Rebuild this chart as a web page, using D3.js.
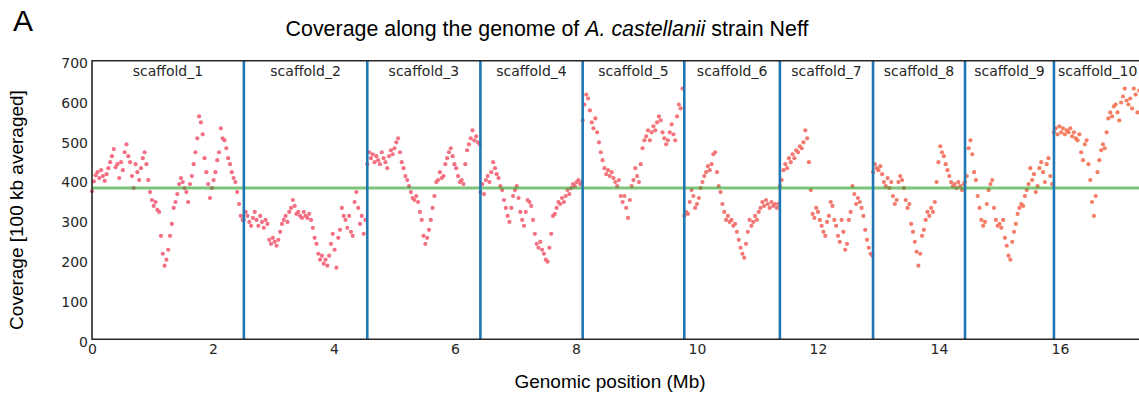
<!DOCTYPE html>
<html>
<head>
<meta charset="utf-8">
<script src="https://cdn.jsdelivr.net/npm/d3@7"></script>
<style>
  body { margin: 0; background: #fff; }
  svg { display: block; }
</style>
</head>
<body>
<svg id="chart"></svg>
<script>
const width = 1139
const height = 396

// chart values
const scaffoldNames = ['scaffold_1','scaffold_2','scaffold_3','scaffold_4','scaffold_5',
  'scaffold_6','scaffold_7','scaffold_8','scaffold_9','scaffold_10']
const scaffoldStarts = [0, 2.51, 4.55, 6.42, 8.11, 9.79, 11.37, 12.91, 14.43, 15.90]
const genomeEnd = 17.5
const windowStep = 0.03
const meanCoverage = 380
const xTickLabels = [0, 2, 4, 6, 8, 10, 12, 14, 16]
const yTickLabels = [0, 100, 200, 300, 400, 500, 600, 700]

const cov1 = [372,397,412,420,405,425,410,398,415,430,445,460,478,432,440,405,445,425,470,490,
  460,445,410,380,440,420,400,430,455,470,440,400,370,350,335,345,325,320,260,215,
  185,200,225,260,290,330,345,365,390,405,395,380,370,345,390,410,440,470,505,560,
  545,515,455,420,390,355,380,400,420,450,470,530,505,500,480,455,440,420,405,395,
  370,340,310,300]
const cov2 = [300,320,310,295,285,305,320,300,285,310,295,280,300,290,250,240,255,245,235,250,
  270,290,300,310,295,320,330,350,335,315,320,310,305,320,310,305,315,300,280,255,
  240,215,200,210,190,200,185,210,240,265,225,180,255,275,330,310,300,280,310,270,
  260,345,370,330,290,310,265,300]
const cov3 = [440,470,455,465,445,460,450,440,470,455,445,430,460,475,465,480,495,505,470,445,
  430,410,400,385,370,355,350,360,345,320,300,260,240,255,275,300,330,360,395,400,
  420,405,410,440,455,470,480,460,440,430,410,395,400,390,440,475,490,505,525,500,
  510,495,490]
const cov4 = [370,390,365,400,410,395,420,445,430,415,405,385,375,350,330,310,295,330,360,375,
  385,355,320,300,285,320,350,345,335,300,265,240,230,245,225,215,200,195,230,265,
  310,315,330,345,340,355,345,360,375,365,380,390,385,395,400,390,395]
const cov5 = [550,590,615,605,575,545,530,555,520,495,470,450,430,415,425,410,420,405,395,385,
  400,360,345,360,330,305,350,385,400,430,410,395,440,480,500,510,525,500,520,535,
  525,545,560,550,520,505,490,500,520,540,515,500,560,590,580,630]
const cov6 = [310,320,315,345,375,360,330,340,355,380,395,410,420,435,425,440,465,470,420,385,
  370,340,320,300,310,295,300,285,290,270,250,230,215,205,240,270,300,285,295,310,
  300,320,330,345,335,350,340,330,345,335,340,330,340]
const cov7 = [385,400,425,440,430,455,445,465,455,475,470,485,480,495,525,505,445,375,315,305,
  330,320,300,285,270,260,295,310,345,335,300,285,260,245,300,270,225,240,300,320,
  385,365,340,355,345,330,310,275,250,230,215,210]
const cov8 = [420,440,430,425,435,415,395,385,405,380,395,360,340,350,395,410,400,380,350,330,
  340,290,270,245,220,185,215,260,275,300,320,310,330,320,345,395,445,485,470,460,
  440,425,410,395,385,390,380,395,385,375,390]
const cov9 = [395,410,480,500,465,420,400,360,330,300,285,295,340,375,390,400,330,300,285,290,
  280,300,255,235,210,200,245,270,290,315,330,340,335,360,375,390,430,400,415,370,
  385,430,445,420,395,440,455,410,390]
const cov10 = [520,530,515,535,520,530,515,525,520,530,510,520,505,500,515,470,450,490,500,440,
  400,345,310,360,420,450,475,490,480,520,555,570,560,585,590,570,550,595,610,630,
  600,590,605,580,630,615,570,625,600]
const coverageByScaffold = [cov1, cov2, cov3, cov4, cov5, cov6, cov7, cov8, cov9, cov10]

// styles
const scaffoldColors = ['#f1637c','#f1647a','#f16578','#f16676','#f16a70',
  '#f16c6b','#f16e64','#f2705f','#f2725a','#f37456']
const tickFont = '"DejaVu Sans", sans-serif'
const labelFont = '"Liberation Sans", Arial, sans-serif'

const svg = d3.select('#chart').attr('width', width).attr('height', height)

const x = d3.scaleLinear().domain([0, genomeEnd]).range([92, 92 + genomeEnd * 60.5])
const y = d3.scaleLinear().domain([0, 700]).range([339.3, 60.7])

// flatten the scaffolds into one point list
const points = []
coverageByScaffold.forEach((vals, k) => {
  vals.forEach((v, i) => {
    points.push({ pos: scaffoldStarts[k] + i * windowStep, cov: v, scaffold: k })
  })
})

//points
svg.append('g')
  .selectAll('circle')
  .data(points)
  .enter().append('circle')
  .attr('cx', d => x(d.pos))
  .attr('cy', d => y(d.cov))
  .attr('r', 2.1)
  .attr('fill', d => scaffoldColors[d.scaffold])
  .attr('fill-opacity', 0.92)

//mean line
svg.append('line')
  .attr('x1', x(0)).attr('x2', width + 10)
  .attr('y1', y(meanCoverage)).attr('y2', y(meanCoverage))
  .attr('stroke', '#2ca02c').attr('stroke-opacity', 0.62)
  .attr('stroke-width', 3)

//scaffold borders
svg.append('g')
  .selectAll('line')
  .data(scaffoldStarts.slice(1))
  .enter().append('line')
  .attr('x1', d => x(d)).attr('x2', d => x(d))
  .attr('y1', y(700)).attr('y2', y(0))
  .attr('stroke', '#1f77b4')
  .attr('stroke-width', 2.6)

//scaffold labels
const ends = scaffoldStarts.slice(1).concat([genomeEnd])
svg.append('g')
  .selectAll('text')
  .data(scaffoldNames)
  .enter().append('text')
  .attr('x', (d, i) => {
    const c = (x(scaffoldStarts[i]) + x(ends[i])) / 2
    return i === 9 ? x(scaffoldStarts[i]) + 4 : c
  })
  .attr('y', 76)
  .attr('text-anchor', (d, i) => i === 9 ? 'start' : 'middle')
  .attr('font-family', tickFont)
  .attr('font-size', 14)
  .attr('fill', '#262626')
  .text(d => d)

//axes
const xAxis = d3.axisBottom(x).tickValues(xTickLabels).tickSize(0).tickPadding(5)
const yAxis = d3.axisLeft(y).tickValues(yTickLabels).tickSize(0).tickPadding(4)

const gx = svg.append('g').attr('transform', `translate(0, ${y(0)})`).call(xAxis)
const gy = svg.append('g').attr('transform', `translate(${x(0)}, 0)`).call(yAxis)
gx.select('.domain').remove()
gy.select('.domain').remove()
gx.selectAll('text').attr('font-family', tickFont).attr('font-size', 14).attr('fill', '#262626')
gy.selectAll('text').attr('font-family', tickFont).attr('font-size', 14).attr('fill', '#262626')
  .attr('dy', '0.48em')

//frame (left, top, bottom)
const frame = d3.path()
frame.moveTo(width + 10, y(700))
frame.lineTo(x(0), y(700))
frame.lineTo(x(0), y(0))
frame.lineTo(width + 10, y(0))
svg.append('path')
  .attr('d', frame.toString())
  .attr('fill', 'none')
  .attr('stroke', '#262626')
  .attr('stroke-width', 1.6)

//titles
svg.append('text')
  .attr('x', 13).attr('y', 31)
  .attr('font-family', labelFont).attr('font-size', 30)
  .text('A')

const title = svg.append('text')
  .attr('x', 547).attr('y', 36)
  .attr('text-anchor', 'middle')
  .attr('font-family', labelFont).attr('font-size', 21.4)
title.append('tspan').text('Coverage along the genome of ')
title.append('tspan').attr('font-style', 'italic').text('A. castellanii')
title.append('tspan').text(' strain Neff')

svg.append('text')
  .attr('x', 610).attr('y', 388)
  .attr('text-anchor', 'middle')
  .attr('font-family', labelFont).attr('font-size', 19)
  .text('Genomic position (Mb)')

svg.append('text')
  .attr('transform', 'translate(23, 210) rotate(-90)')
  .attr('text-anchor', 'middle')
  .attr('font-family', labelFont).attr('font-size', 19)
  .text('Coverage [100 kb averaged]')
</script>
</body>
</html>
